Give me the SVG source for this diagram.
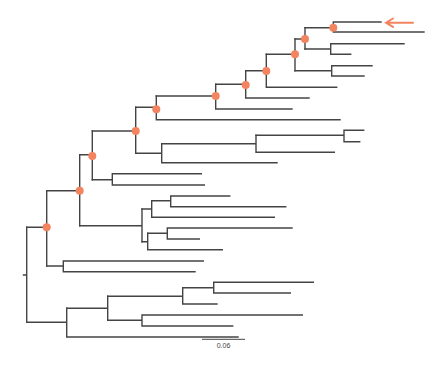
<svg xmlns="http://www.w3.org/2000/svg" width="446" height="372" viewBox="0 0 446 372">
<style>
.e{fill:none;stroke:#444;stroke-width:1.4;stroke-linecap:square}
.d{fill:#F4845F}
.t{font-family:"Liberation Sans",Arial,sans-serif;font-size:7px;fill:#444}
</style>
<rect width="446" height="372" fill="#fff"/>
<g id="edges" class="e">
<path d="M23.5 275H26.7M26.7 227.3V322.3"/>
<path d="M26.7 227.3H46.7M46.7 190.7V266"/>
<path d="M46.7 190.7H79.7M79.7 154.7V225.7"/>
<path d="M79.7 154.7H92.3M92.3 131V179.7"/>
<path d="M92.3 131H135.7M135.7 107.3V153.3"/>
<path d="M135.7 107.3H156.3M156.3 96V119.7M156.3 119.7H340"/>
<path d="M156.3 96H215.7M215.7 84.3V109M215.7 109H292"/>
<path d="M215.7 84.3H245.7M245.7 70.7V98M245.7 98H309"/>
<path d="M245.7 70.7H266.3M266.3 54.3V87.3M266.3 87.3H336.7"/>
<path d="M266.3 54.3H295M295 39V70.7"/>
<path d="M295 70.7H331.7M331.7 65.7V76M331.7 65.7H372M331.7 76H364"/>
<path d="M295 39H305M305 27.7V49"/>
<path d="M305 49H330.7M330.7 43.7V54.3M330.7 43.7H404M330.7 54.3H350.7"/>
<path d="M305 27.7H333.3M333.3 22V32M333.3 22H381M333.3 32H424"/>
<path d="M135.7 153.3H161.7M161.7 143.7V162.7M161.7 162.7H277"/>
<path d="M161.7 143.7H256M256 135.3V152.3M256 152.3H334.3"/>
<path d="M256 135.3H344M344 130.3V141.7M344 130.3H363.7M344 141.7H359.7"/>
<path d="M92.3 179.7H112.3M112.3 173.7V185M112.3 173.7H201.3M112.3 185H204.3"/>
<path d="M79.7 225.7H142M142 209V241.7"/>
<path d="M142 209H151.7M151.7 200.7V217.3M151.7 217.3H274.3"/>
<path d="M151.7 200.7H170.7M170.7 196V206.7M170.7 196H229.7M170.7 206.7H285.7"/>
<path d="M142 241.7H147.7M147.7 233.3V249.7M147.7 249.7H222.3"/>
<path d="M147.7 233.3H167.3M167.3 228V239M167.3 228H292M167.3 239H199.3"/>
<path d="M46.7 266H63.3M63.3 261V271.7M63.3 261H203.3M63.3 271.7H195"/>
<path d="M26.7 322.3H66.7M66.7 308.3V337M66.7 337H238"/>
<path d="M66.7 308.3H107.7M107.7 296.3V320.3"/>
<path d="M107.7 296.3H182.7M182.7 287.7V304M182.7 304H217"/>
<path d="M182.7 287.7H213.7M213.7 282.3V293M213.7 282.3H313.3M213.7 293H290.3"/>
<path d="M107.7 320.3H142M142 315V326M142 315H302.3M142 326H232.7"/>
</g>
<g id="nodes">
<circle class="d" cx="333.3" cy="27.7" r="4"/>
<circle class="d" cx="305" cy="39" r="4"/>
<circle class="d" cx="295" cy="54.3" r="4"/>
<circle class="d" cx="266.3" cy="71" r="4"/>
<circle class="d" cx="245.7" cy="85" r="4"/>
<circle class="d" cx="215.7" cy="96" r="4"/>
<circle class="d" cx="156.3" cy="109.3" r="4"/>
<circle class="d" cx="135.7" cy="131" r="4"/>
<circle class="d" cx="92.3" cy="156" r="4"/>
<circle class="d" cx="79.7" cy="190.7" r="4"/>
<circle class="d" cx="46.7" cy="227.3" r="4"/>
</g>
<g id="arrow" fill="none" stroke="#F4845F" stroke-width="2" stroke-linecap="round">
<path d="M386 22.7H413M393 18.5L386 22.7L393 26.9"/>
</g>
<g id="scale">
<path d="M202 339.3H245" stroke="#444" stroke-width="1"/>
<text class="t" x="223.5" y="347.5" text-anchor="middle">0.06</text>
</g>
</svg>
